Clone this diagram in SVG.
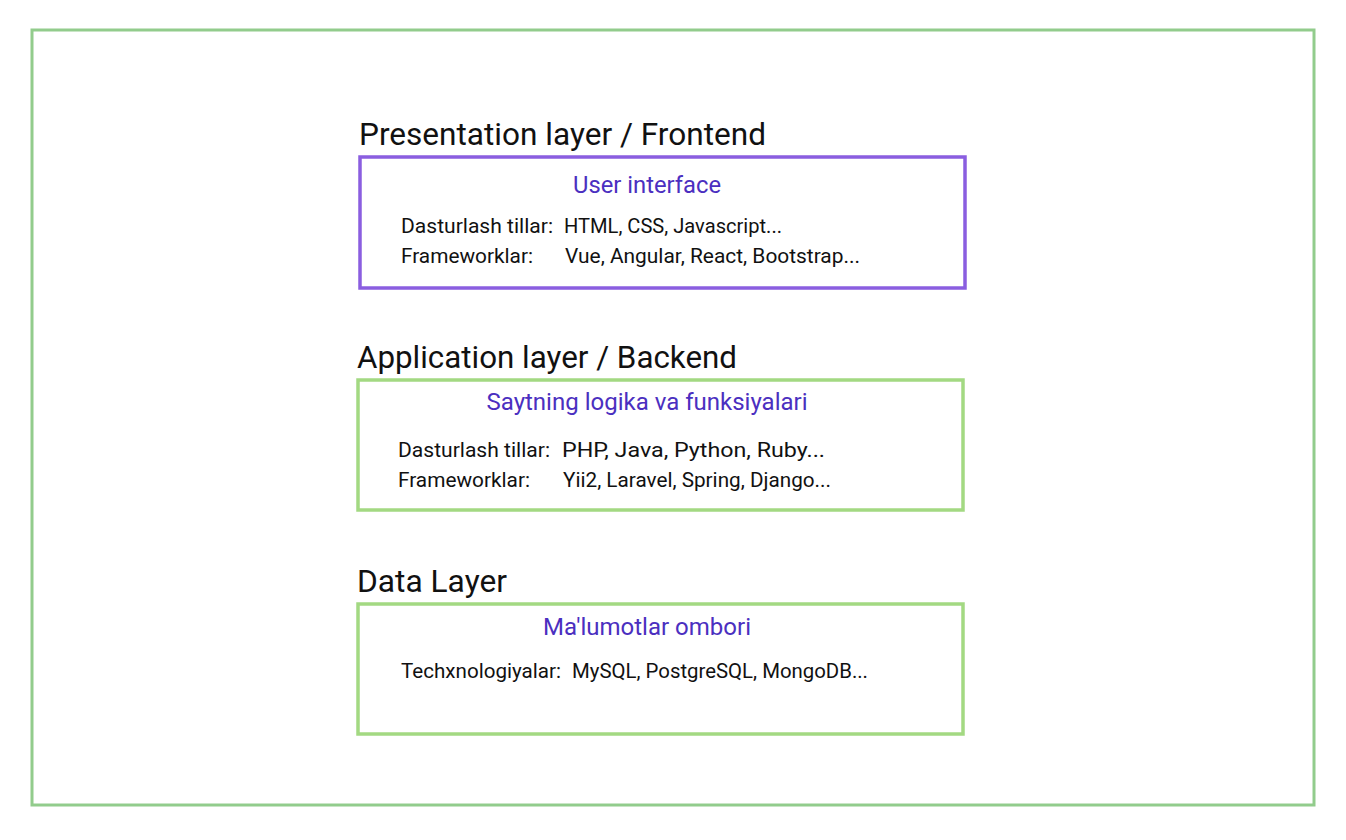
<svg xmlns="http://www.w3.org/2000/svg" width="1346" height="840" viewBox="0 0 1346 840">
<style>
text{font-family:Roboto,"Liberation Sans",sans-serif}
.hd{font-size:31px;fill:#111}
.st{font-size:23px;fill:#4b2fc0;text-anchor:middle}
.bd{font-size:20px;fill:#111}
.g{fill:none;stroke:#a3d982;stroke-width:3.5}
.p{fill:none;stroke:#8a5ee0;stroke-width:3.5}
</style>
<rect width="1346" height="840" fill="#fff"/>
<rect x="32" y="30" width="1282" height="775" fill="none" stroke="#92cc8c" stroke-width="3"/>
<g id="presentation">
<text class="hd" x="359" y="145" textLength="407" lengthAdjust="spacingAndGlyphs">Presentation layer / Frontend</text>
<rect class="p" x="360" y="157" width="605" height="131"/>
<text class="st" x="647" y="193" textLength="148" lengthAdjust="spacingAndGlyphs">User interface</text>
<text class="bd" x="401" y="233" textLength="152" lengthAdjust="spacingAndGlyphs">Dasturlash tillar:</text>
<text class="bd" x="564" y="233" textLength="218" lengthAdjust="spacingAndGlyphs">HTML, CSS, Javascript...</text>
<text class="bd" x="401" y="263" textLength="132" lengthAdjust="spacingAndGlyphs">Frameworklar:</text>
<text class="bd" x="565" y="263" textLength="295" lengthAdjust="spacingAndGlyphs">Vue, Angular, React, Bootstrap...</text>
</g>
<g id="application">
<text class="hd" x="357" y="368" textLength="380" lengthAdjust="spacingAndGlyphs">Application layer / Backend</text>
<rect class="g" x="358" y="380" width="605" height="130"/>
<text class="st" x="647" y="410" textLength="321" lengthAdjust="spacingAndGlyphs">Saytning logika va funksiyalari</text>
<text class="bd" x="398" y="457" textLength="152" lengthAdjust="spacingAndGlyphs">Dasturlash tillar:</text>
<text class="bd" x="562" y="457" textLength="263" lengthAdjust="spacingAndGlyphs">PHP, Java, Python, Ruby...</text>
<text class="bd" x="398" y="487" textLength="132" lengthAdjust="spacingAndGlyphs">Frameworklar:</text>
<text class="bd" x="563" y="487" textLength="268" lengthAdjust="spacingAndGlyphs">Yii2, Laravel, Spring, Django...</text>
</g>
<g id="data">
<text class="hd" x="357" y="592" textLength="150" lengthAdjust="spacingAndGlyphs">Data Layer</text>
<rect class="g" x="358" y="604" width="605" height="130"/>
<text class="st" x="647" y="635" textLength="208" lengthAdjust="spacingAndGlyphs">Ma'lumotlar ombori</text>
<text class="bd" x="401" y="678" textLength="160" lengthAdjust="spacingAndGlyphs">Techxnologiyalar:</text>
<text class="bd" x="572" y="678" textLength="296" lengthAdjust="spacingAndGlyphs">MySQL, PostgreSQL, MongoDB...</text>
</g>
<g id="connectors"/>
</svg>
